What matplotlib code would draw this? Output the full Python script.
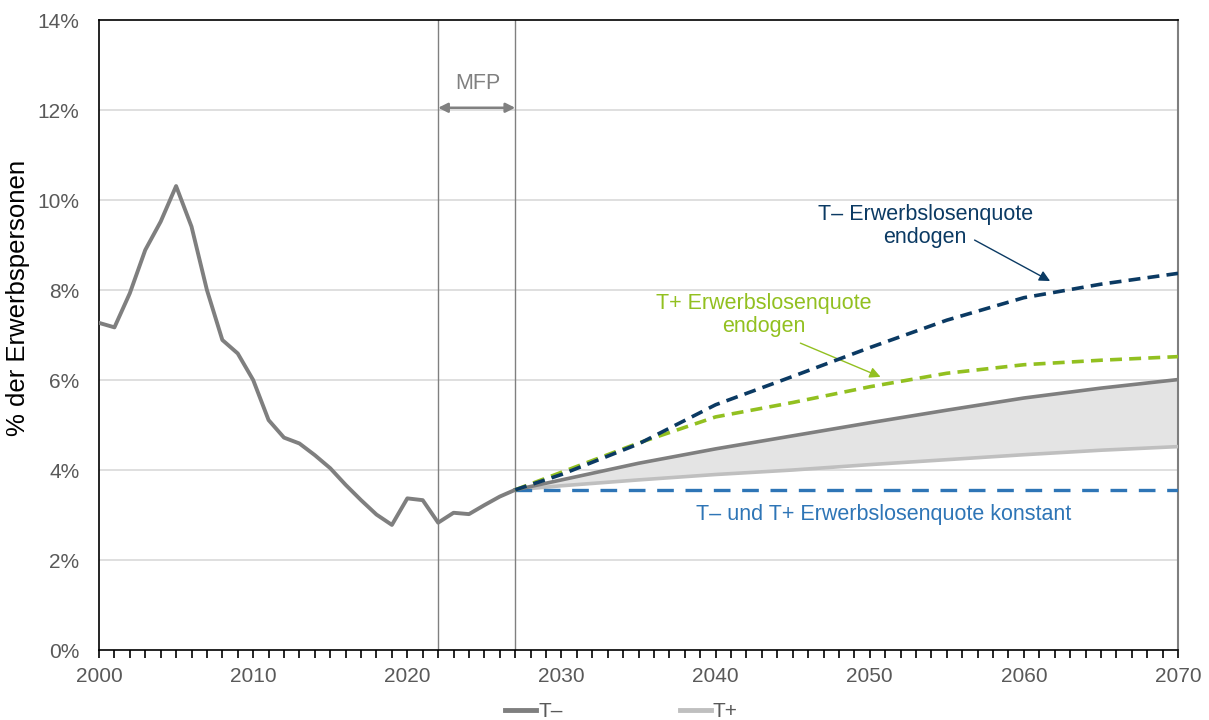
import matplotlib
matplotlib.use("Agg")
import matplotlib.pyplot as plt
from matplotlib.lines import Line2D

plt.rcParams["font.family"] = ["Liberation Sans", "DejaVu Sans"]

# historical unemployment rate (% of labour force)
hist_years = list(range(2000, 2028))
hist_vals = [7.27, 7.17, 7.93, 8.89, 9.52, 10.31, 9.41, 8.00, 6.89, 6.59,
             6.00, 5.11, 4.72, 4.59, 4.33, 4.04, 3.67, 3.33, 3.01, 2.78,
             3.37, 3.33, 2.83, 3.05, 3.02, 3.22, 3.41, 3.56]

# projections
proj_years = [2027, 2030, 2035, 2040, 2045, 2050, 2055, 2060, 2065, 2070]
t_minus = [3.56, 3.78, 4.15, 4.47, 4.76, 5.05, 5.33, 5.60, 5.82, 6.01]
t_plus = [3.56, 3.65, 3.78, 3.90, 4.00, 4.12, 4.23, 4.34, 4.44, 4.52]
t_minus_endo = [3.56, 3.90, 4.58, 5.45, 6.08, 6.72, 7.33, 7.83, 8.13, 8.37]
t_plus_endo = [3.56, 3.95, 4.60, 5.18, 5.50, 5.85, 6.15, 6.34, 6.44, 6.52]
konstant = [3.56, 3.56, 3.56, 3.56, 3.56, 3.56, 3.56, 3.56, 3.56, 3.56]

C_TM = "#7f7f7f"
C_TP = "#bfbfbf"
C_NAVY = "#0b3a63"
C_GREEN = "#92c020"
C_BLUE = "#2e75b6"
C_TXT = "#595959"

fig = plt.figure(figsize=(12.09, 7.2), dpi=100)
ax = fig.add_axes([0.0819, 0.0972, 0.8925, 0.875])

ax.set_xlim(2000, 2070)
ax.set_ylim(0, 14)

# grid
for g in range(2, 14, 2):
    ax.axhline(g, color="#d9d9d9", lw=1.2, zorder=0)

# MFP period
ax.axvline(2022, color="#808080", lw=1, zorder=1)
ax.axvline(2027, color="#808080", lw=1, zorder=1)
ax.annotate("", xy=(2022, 12.05), xytext=(2027, 12.05),
            arrowprops=dict(arrowstyle="<|-|>", color="#808080", lw=1.8,
                            mutation_scale=14, shrinkA=0, shrinkB=0))
ax.text(2024.6, 12.6, "MFP", ha="center", va="center", fontsize=15.5, color="#808080")

# shaded range between T- and T+
ax.fill_between(proj_years, t_plus, t_minus, color="#e4e4e4", lw=0, zorder=2)

ax.plot(hist_years, hist_vals, color=C_TM, lw=2.8, zorder=4)
ax.plot(proj_years, t_minus, color=C_TM, lw=2.6, zorder=4)
ax.plot(proj_years, t_plus, color=C_TP, lw=2.6, zorder=3)
ax.plot(proj_years, konstant, color=C_BLUE, lw=2.4, dashes=(5, 3.5), zorder=3)
ax.plot(proj_years, t_plus_endo, color=C_GREEN, lw=2.6, dashes=(3.3, 2), zorder=5)
ax.plot(proj_years, t_minus_endo, color=C_NAVY, lw=2.6, dashes=(3.3, 2), zorder=5)

# annotations
ax.text(2053.6, 9.42, "T\u2013 Erwerbslosenquote\nendogen", ha="center", va="center",
        fontsize=15.5, color=C_NAVY, linespacing=1.15)
ax.annotate("", xy=(2061.7, 8.2), xytext=(2056.8, 9.11),
            arrowprops=dict(arrowstyle="-|>", color=C_NAVY, lw=1, mutation_scale=16,
                            shrinkA=0, shrinkB=0))
ax.text(2043.1, 7.44, "T+ Erwerbslosenquote\nendogen", ha="center", va="center",
        fontsize=15.5, color=C_GREEN, linespacing=1.15)
ax.annotate("", xy=(2050.7, 6.07), xytext=(2045.5, 6.82),
            arrowprops=dict(arrowstyle="-|>", color=C_GREEN, lw=1, mutation_scale=16,
                            shrinkA=0, shrinkB=0))
ax.text(2050.9, 3.02, "T\u2013 und T+ Erwerbslosenquote konstant", ha="center", va="center",
        fontsize=15.5, color=C_BLUE)

# axes styling
ax.set_xticks(range(2000, 2071, 10))
ax.set_xticks(range(2000, 2071, 1), minor=True)
ax.set_yticks(range(0, 15, 2))
ax.set_yticklabels([f"{v}%" for v in range(0, 15, 2)])
ax.tick_params(axis="x", which="both", direction="out", length=6, width=1.2,
               color="black", labelsize=15, labelcolor=C_TXT, pad=6)
ax.tick_params(axis="y", length=0, labelsize=15, labelcolor=C_TXT, pad=14)
fig.text(18 / 1209, 1 - 298 / 720, "% der Erwerbspersonen", rotation=90,
         ha="center", va="center", fontsize=18.5, color="black")

for side in ["left", "bottom", "top"]:
    ax.spines[side].set_color("black")
    ax.spines[side].set_linewidth(1.2)
ax.spines["right"].set_color("#7f7f7f")
ax.spines["right"].set_linewidth(1.5)

handles = [Line2D([], [], color=C_TM, lw=3.5), Line2D([], [], color=C_TP, lw=3.5)]
fig.legend(handles, ["T\u2013", "T+"], loc="lower center", bbox_to_anchor=(0.514, -0.028),
           ncol=2, frameon=False, fontsize=15, handlelength=1.5, handletextpad=0.1,
           columnspacing=5.6, labelcolor=C_TXT)

fig.savefig("out.png", dpi=100)
